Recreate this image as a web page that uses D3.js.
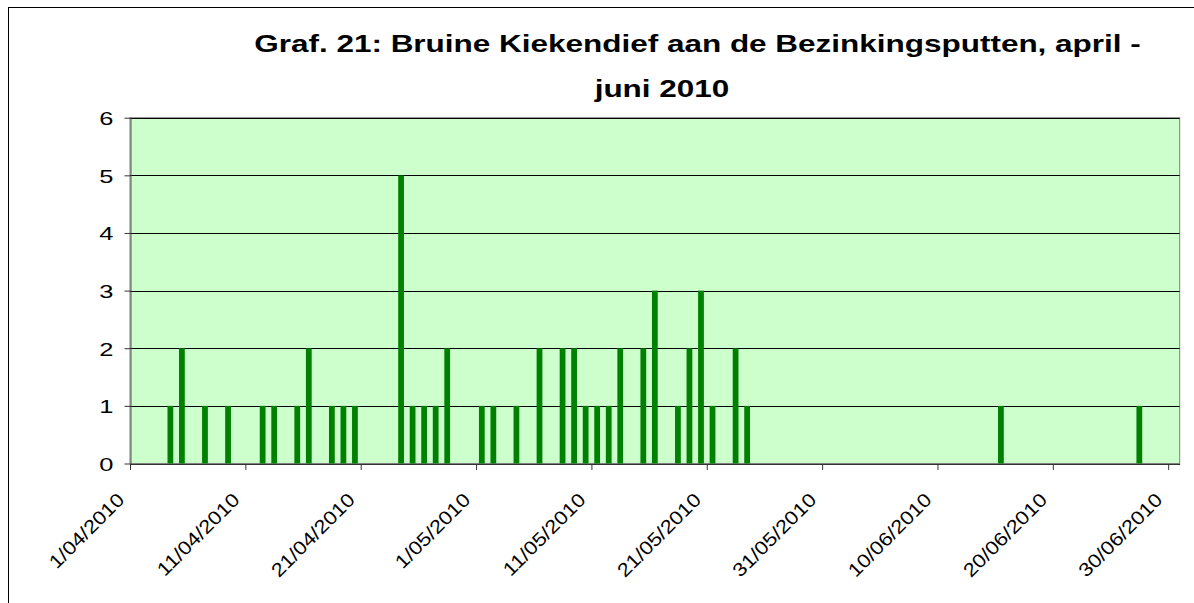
<!DOCTYPE html>
<html>
<head>
<meta charset="utf-8">
<script src="https://cdn.jsdelivr.net/npm/d3@7"></script>
<style>
  html, body { margin: 0; padding: 0; background: #fff; }
  svg { display: block; }
</style>
</head>
<body>
<div id="chart"></div>
<script>
// Bruine Kiekendief counts per day (only days with sightings)
const dates = [
  '2010-04-04', '2010-04-05', '2010-04-07', '2010-04-09', '2010-04-12', '2010-04-13',
  '2010-04-15', '2010-04-16', '2010-04-18', '2010-04-19', '2010-04-20', '2010-04-24',
  '2010-04-25', '2010-04-26', '2010-04-27', '2010-04-28', '2010-05-01', '2010-05-02',
  '2010-05-04', '2010-05-06', '2010-05-08', '2010-05-09', '2010-05-10', '2010-05-11',
  '2010-05-12', '2010-05-13', '2010-05-15', '2010-05-16', '2010-05-18', '2010-05-19',
  '2010-05-20', '2010-05-21', '2010-05-23', '2010-05-24', '2010-06-15', '2010-06-27'
];
const counts = [
  1, 2, 1, 1, 1, 1,
  1, 2, 1, 1, 1, 5,
  1, 1, 1, 2, 1, 1,
  1, 2, 2, 2, 1, 1,
  1, 2, 2, 3, 1, 2,
  3, 1, 2, 1, 1, 1
];
const xTickLabels = [
  '1/04/2010', '11/04/2010', '21/04/2010', '1/05/2010', '11/05/2010',
  '21/05/2010', '31/05/2010', '10/06/2010', '20/06/2010', '30/06/2010'
];
const yTicks = [0, 1, 2, 3, 4, 5, 6];
const titleLines = ['Graf. 21: Bruine Kiekendief aan de Bezinkingsputten, april -', 'juni 2010'];

const width = 1194;
const height = 603;
const font = '"Liberation Sans", Arial, sans-serif';
const stretch = 1.34; // glyphs in the original are drawn wide

const plot = { left: 130, right: 1179.7, top: 117.7, bottom: 463.5 };

const parseDay = d3.utcParse('%Y-%m-%d');
const parseTick = d3.utcParse('%d/%m/%Y');
const fmtTick = d3.utcFormat('%-d/%m/%Y');

const svg = d3.select('#chart')
  .append('svg')
  .attr('width', width)
  .attr('height', height);

// outer chart frame (right and bottom edges fall outside the picture)
svg.append('rect')
  .attr('x', 8.5).attr('y', 7.5)
  .attr('width', 1210).attr('height', 620)
  .attr('fill', '#fff')
  .attr('stroke', '#000')
  .attr('stroke-width', 1);

const x = d3.scaleUtc()
  .domain([parseDay('2010-04-01'), parseDay('2010-07-01')])
  .range([plot.left, plot.right]);

const y = d3.scaleLinear()
  .domain([0, 6])
  .range([plot.bottom, plot.top]);

const dayWidth = x(parseDay('2010-04-02')) - x(parseDay('2010-04-01'));
const barWidth = dayWidth * 0.5;

// plot area
svg.append('rect')
  .attr('x', plot.left).attr('y', plot.top)
  .attr('width', plot.right - plot.left)
  .attr('height', plot.bottom - plot.top)
  .attr('fill', '#CCFFCC')
  .attr('stroke', '#808080')
  .attr('stroke-width', 1);

// gridlines
svg.append('g')
  .selectAll('line')
  .data(yTicks.filter(v => v > 0))
  .join('line')
  .attr('x1', plot.left).attr('x2', plot.right)
  .attr('y1', d => Math.round(y(d)) + 0.5)
  .attr('y2', d => Math.round(y(d)) + 0.5)
  .attr('stroke', '#000')
  .attr('stroke-width', 1);

// bars, centred in their day slot
const rows = dates.map((d, i) => ({ date: parseDay(d), value: counts[i] }));
svg.append('g')
  .selectAll('rect')
  .data(rows)
  .join('rect')
  .attr('x', d => x(d3.utcHour.offset(d.date, 12)) - barWidth / 2)
  .attr('y', d => y(d.value))
  .attr('width', barWidth)
  .attr('height', d => y(0) - y(d.value))
  .attr('fill', '#008000');

// y axis
const yAxis = svg.append('g')
  .attr('transform', `translate(${plot.left + 0.5},0)`)
  .call(d3.axisLeft(y).tickValues(yTicks).tickSize(6).tickSizeOuter(0).tickFormat(d3.format('d')));

yAxis.select('.domain').attr('stroke', '#555');
yAxis.selectAll('.tick line').attr('stroke', '#333');
yAxis.selectAll('.tick text')
  .attr('x', null)
  .attr('dy', '0.36em')
  .attr('transform', `translate(-17,0) scale(${stretch},1)`)
  .attr('fill', '#000')
  .attr('font-size', '19px')
  .attr('font-family', font);

// x axis
const xAxis = svg.append('g')
  .attr('transform', `translate(0,${plot.bottom + 0.5})`)
  .call(d3.axisBottom(x)
    .tickValues(xTickLabels.map(parseTick))
    .tickSize(6)
    .tickSizeOuter(0)
    .tickFormat(fmtTick));

xAxis.select('.domain').attr('stroke', '#333');
xAxis.selectAll('.tick line').attr('stroke', '#333');
xAxis.selectAll('.tick text')
  .attr('y', null)
  .attr('dy', null)
  .attr('text-anchor', 'end')
  .attr('transform', 'translate(-5,37) rotate(-45) scale(1.15,1)')
  .attr('fill', '#000')
  .attr('font-size', '19px')
  .attr('font-family', font);

// title
const titlePos = [{ cx: 697.5, y: 52 }, { cx: 662, y: 97 }];
svg.append('g')
  .selectAll('text')
  .data(titleLines)
  .join('text')
  .attr('transform', (d, i) => `translate(${titlePos[i].cx},${titlePos[i].y}) scale(${stretch},1)`)
  .attr('text-anchor', 'middle')
  .attr('font-family', font)
  .attr('font-weight', 700)
  .attr('font-size', '23.5px')
  .attr('fill', '#000')
  .text(d => d);
</script>
</body>
</html>
